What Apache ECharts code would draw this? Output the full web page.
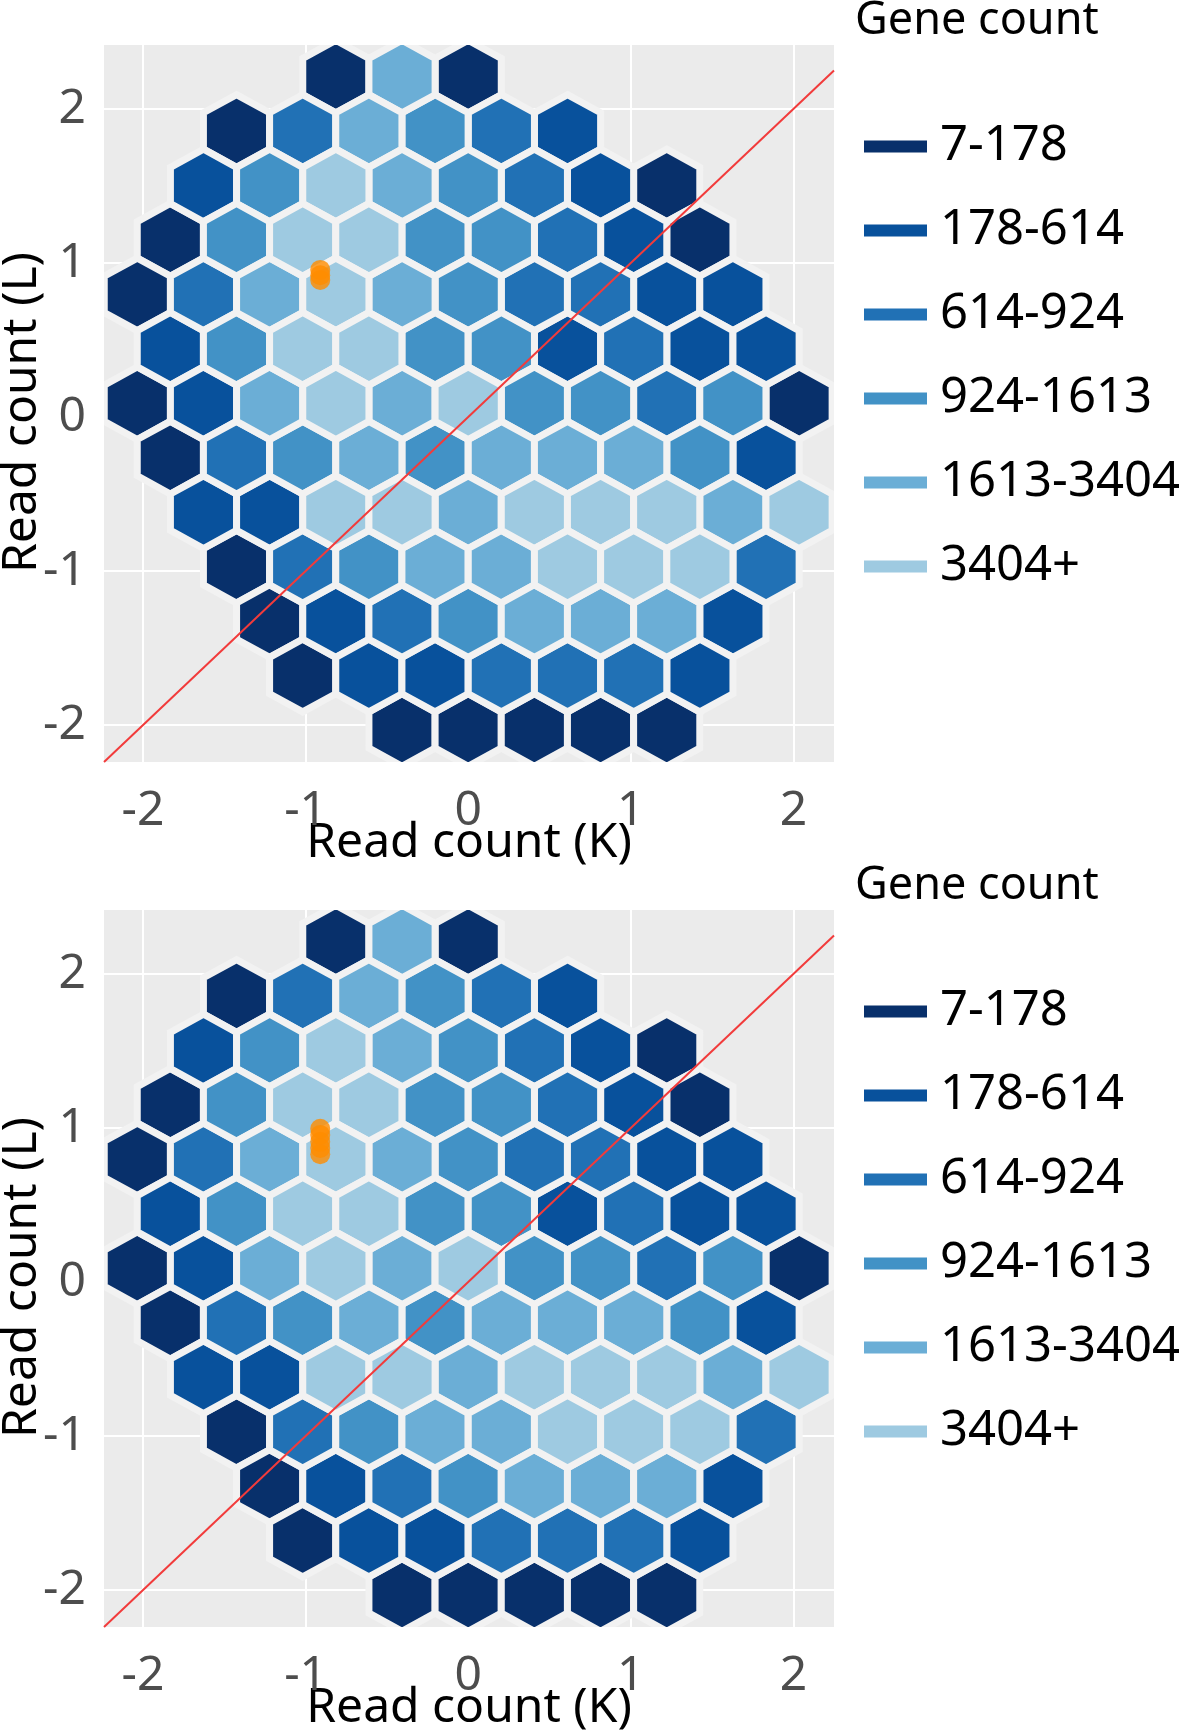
<!DOCTYPE html>
<html><head><meta charset="utf-8">
<script src="https://cdn.jsdelivr.net/npm/echarts@6/dist/echarts.min.js"></script>
<style>html,body{margin:0;padding:0;background:#fff}#c{width:1179px;height:1730px}</style>
</head><body><div id="c"></div>
<script>
// ---- data ----
const geneClasses = ['7-178', '178-614', '614-924', '924-1613', '1613-3404', '3404+'];
const classColors = ['#08306b', '#08519c', '#2171b5', '#4292c6', '#6baed6', '#9ecae1'];
// hexbin centre positions (Read count K) on the bin lattice
const binCentersX = [-2.035, -1.832, -1.628, -1.425, -1.221, -1.018, -0.814, -0.611, -0.407, -0.204, 0,
                     0.204, 0.407, 0.611, 0.814, 1.018, 1.221, 1.425, 1.628, 1.832, 2.035];
// hexbin row centres (Read count L), top to bottom
const rowCentersY = [2.210, 1.857, 1.503, 1.150, 0.796, 0.443, 0.089, -0.264, -0.618, -0.972, -1.325, -1.679, -2.032];
// index into binCentersX of the first filled bin of each row (bins step by 2)
const rowFirstBin = [6, 3, 2, 1, 0, 1, 0, 1, 2, 3, 4, 5, 8];
// gene-count class (1..6) of each filled bin, left to right
const rowClasses = [
  [1, 5, 1],
  [1, 3, 5, 4, 3, 2],
  [2, 4, 6, 5, 4, 3, 2, 1],
  [1, 4, 6, 6, 4, 4, 3, 2, 1],
  [1, 3, 5, 6, 5, 4, 3, 3, 2, 2],
  [2, 4, 6, 6, 4, 4, 2, 3, 2, 2],
  [1, 2, 5, 6, 5, 6, 4, 4, 3, 4, 1],
  [1, 3, 4, 5, 4, 5, 5, 5, 4, 2],
  [2, 2, 6, 6, 5, 6, 6, 6, 5, 6],
  [1, 3, 4, 5, 5, 6, 6, 6, 3],
  [1, 2, 3, 4, 5, 5, 5, 2],
  [1, 2, 2, 3, 3, 3, 2],
  [1, 1, 1, 1, 1]
];
const tickValues = [-2, -1, 0, 1, 2];
const identityLine = [-2.24, 2.25];
const highlightX = -0.91;
const highlightYTop = [0.89, 0.92, 0.955];
const highlightYBottom = [0.83, 0.87, 0.91, 0.955, 0.995];

// ---- geometry / style ----
const HEX_A = 0.2035;   // half bin width (x units)
const HEX_R = 0.2357;   // hex circumradius (y units)
const FONT = 'Noto Sans';
const PANEL_OFF = 865;

function hexDataFor(cls) {
  const out = [];
  rowClasses.forEach((row, r) => {
    row.forEach((c, i) => {
      if (c - 1 === cls) out.push([binCentersX[rowFirstBin[r] + 2 * i], rowCentersY[r]]);
    });
  });
  return out;
}

function makeRender(color) {
  return function (params, api) {
    const cx = api.value(0), cy = api.value(1);
    const pts = [[cx, cy + HEX_R], [cx + HEX_A, cy + HEX_R / 2], [cx + HEX_A, cy - HEX_R / 2],
                 [cx, cy - HEX_R], [cx - HEX_A, cy - HEX_R / 2], [cx - HEX_A, cy + HEX_R / 2]].map(p => api.coord(p));
    return { type: 'polygon', shape: { points: pts }, style: { fill: color, stroke: '#f2f2f2', lineWidth: 7 } };
  };
}

const grids = [], xAxes = [], yAxes = [], legends = [], titles = [], series = [];
[0, 1].forEach(p => {
  const off = p * PANEL_OFF;
  grids.push({ left: 104, top: 45 + off, width: 730, height: 717, show: true, backgroundColor: '#ebebeb',
    borderWidth: 0, containLabel: false, outerBoundsMode: 'none' });
  xAxes.push({
    type: 'value', gridIndex: p, min: -2.24, max: 2.25, minInterval: 1, maxInterval: 1,
    axisLine: { show: false },
    axisTick: { show: true, length: 8, customValues: tickValues, lineStyle: { color: '#333', width: 2 } },
    axisLabel: { customValues: tickValues, fontSize: 48, color: '#4d4d4d', margin: 25, fontFamily: FONT },
    splitLine: { show: true, lineStyle: { color: '#ffffff', width: 2 } },
    name: 'Read count (K)', nameLocation: 'middle', nameGap: 57, nameMoveOverlap: false,
    nameTextStyle: { fontSize: 48, color: '#000', fontFamily: FONT }
  });
  yAxes.push({
    type: 'value', gridIndex: p, min: -2.24, max: 2.415, minInterval: 1, maxInterval: 1,
    axisLine: { show: false },
    axisTick: { show: true, length: 8, customValues: tickValues, lineStyle: { color: '#333', width: 2 } },
    axisLabel: { customValues: tickValues, fontSize: 48, color: '#4d4d4d', margin: 18, fontFamily: FONT },
    splitLine: { show: true, lineStyle: { color: '#ffffff', width: 2 } },
    name: 'Read count (L)', nameLocation: 'middle', nameGap: 58, nameRotate: 90, nameMoveOverlap: false,
    nameTextStyle: { fontSize: 48, color: '#000', fontFamily: FONT, padding: [0, 18, 0, 0] }
  });
  titles.push({ text: 'Gene count', left: 855, top: off - 1, padding: 0,
    textStyle: { fontSize: 45, fontWeight: 'normal', color: '#000', fontFamily: FONT } });
  legends.push({
    orient: 'vertical', left: 864, top: 122 + off, padding: 0, itemWidth: 63, itemHeight: 12, itemGap: 35,
    icon: 'rect', selectedMode: false, data: geneClasses,
    textStyle: { fontSize: 49, lineHeight: 49, color: '#000', fontFamily: FONT, padding: [0, 0, 0, 8] }
  });
  geneClasses.forEach((name, k) => {
    series.push({
      type: 'custom', name: name, xAxisIndex: p, yAxisIndex: p, clip: true, z: 2,
      itemStyle: { color: classColors[k] },
      renderItem: makeRender(classColors[k]),
      data: hexDataFor(k)
    });
  });
  series.push({
    type: 'line', xAxisIndex: p, yAxisIndex: p, z: 3, showSymbol: false, silent: true,
    lineStyle: { color: '#f23b3b', width: 2 },
    data: identityLine.map(v => [v, v])
  });
  series.push({
    type: 'scatter', xAxisIndex: p, yAxisIndex: p, z: 4, symbolSize: 20, silent: true,
    itemStyle: { color: '#ff8c00' },
    data: (p === 0 ? highlightYTop : highlightYBottom).map(y => [highlightX, y])
  });
});

const chart = echarts.init(document.getElementById('c'), null, { renderer: 'canvas' });
chart.setOption({
  animation: false,
  backgroundColor: '#ffffff',
  textStyle: { fontFamily: FONT },
  title: titles, legend: legends, grid: grids, xAxis: xAxes, yAxis: yAxes, series: series
});
</script></body></html>
